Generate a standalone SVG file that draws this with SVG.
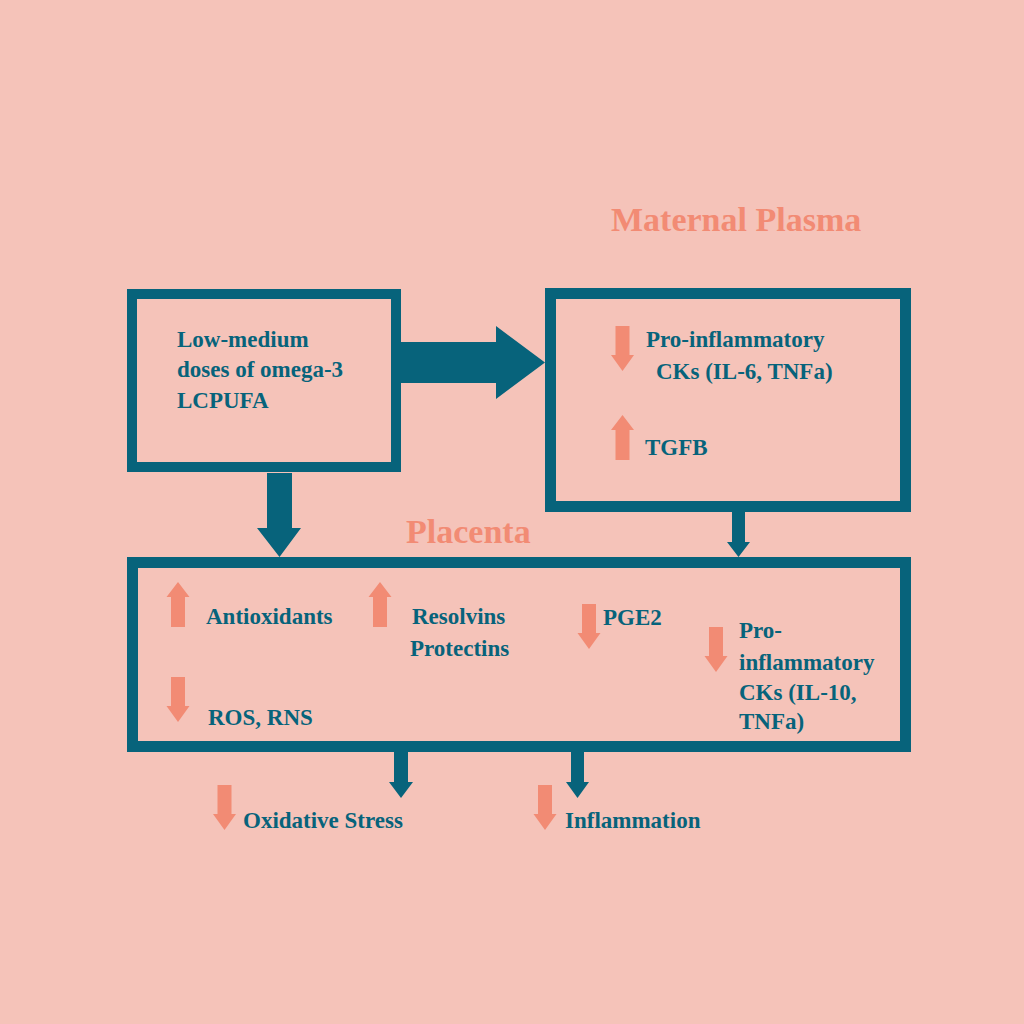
<svg xmlns="http://www.w3.org/2000/svg" xmlns:xlink="http://www.w3.org/1999/xlink" width="1024" height="1024" viewBox="0 0 1024 1024">
<style>
.box{fill:none;stroke:#07637B;stroke-width:11}
.conn{fill:#07637B}
.sal{fill:#F28B74}
.t{font-family:"Liberation Serif","Times New Roman",serif;font-weight:bold;font-size:23px;fill:#07637B}
.title{font-family:"Liberation Serif","Times New Roman",serif;font-weight:bold;font-size:34px;fill:#F28B74}
</style>
<defs>
<path id="sdown" d="M-7,0 H7 V29 H11.5 L0,45 L-11.5,29 H-7 Z"/>
<path id="sup" d="M0,0 L11.5,15 H7 V45 H-7 V15 H-11.5 Z"/>
</defs>
<rect width="1024" height="1024" fill="#F5C3B9"/>
<text class="title" x="611" y="231">Maternal Plasma</text>
<text class="title" x="406" y="543">Placenta</text>
<g id="connectors">
<polygon class="conn" points="401,342 496,342 496,326 545,362.5 496,399 496,383 401,383"/>
<polygon class="conn" points="267,473 292,473 292,528 301,528 279.5,557 257,528 267,528"/>
<polygon class="conn" points="732,512 745,512 745,542 750,542 738.5,557 727,542 732,542"/>
<polygon class="conn" points="394,752 408,752 408,782 413,782 401,798 389,782 394,782"/>
<polygon class="conn" points="571,752 584,752 584,782 589,782 577.5,798 566,782 571,782"/>
</g>
<g id="omega3">
<rect class="box" x="132" y="294" width="264" height="173" style="stroke-width:10"/>
<text class="t" x="177" y="347">Low-medium</text>
<text class="t" x="177" y="377">doses of omega-3</text>
<text class="t" x="177" y="408">LCPUFA</text>
</g>
<g id="maternal-plasma">
<rect class="box" x="550.5" y="293.5" width="355" height="213"/>
<use href="#sdown" class="sal" x="622.5" y="326"/>
<text class="t" x="646" y="347">Pro-inflammatory</text>
<text class="t" x="656" y="379">CKs (IL-6, TNFa)</text>
<use href="#sup" class="sal" x="622.5" y="415"/>
<text class="t" x="645" y="455">TGFB</text>
</g>
<g id="placenta">
<rect class="box" x="132.5" y="562.5" width="773" height="184"/>
<use href="#sup" class="sal" x="178" y="582"/>
<text class="t" x="206" y="624">Antioxidants</text>
<use href="#sup" class="sal" x="380" y="582"/>
<text class="t" x="412" y="624">Resolvins</text>
<text class="t" x="410" y="656">Protectins</text>
<use href="#sdown" class="sal" x="589" y="604"/>
<text class="t" x="603" y="625">PGE2</text>
<use href="#sdown" class="sal" x="716" y="627"/>
<text class="t" x="739" y="638">Pro-</text>
<text class="t" x="739" y="670">inflammatory</text>
<text class="t" x="739" y="700">CKs (IL-10,</text>
<text class="t" x="739" y="729">TNFa)</text>
<use href="#sdown" class="sal" x="178" y="677"/>
<text class="t" x="208" y="725">ROS, RNS</text>
</g>
<g id="oxidative-stress">
<use href="#sdown" class="sal" x="224.5" y="785"/>
<text class="t" x="243" y="828">Oxidative Stress</text>
</g>
<g id="inflammation">
<use href="#sdown" class="sal" x="545" y="785"/>
<text class="t" x="565" y="828">Inflammation</text>
</g>
</svg>
